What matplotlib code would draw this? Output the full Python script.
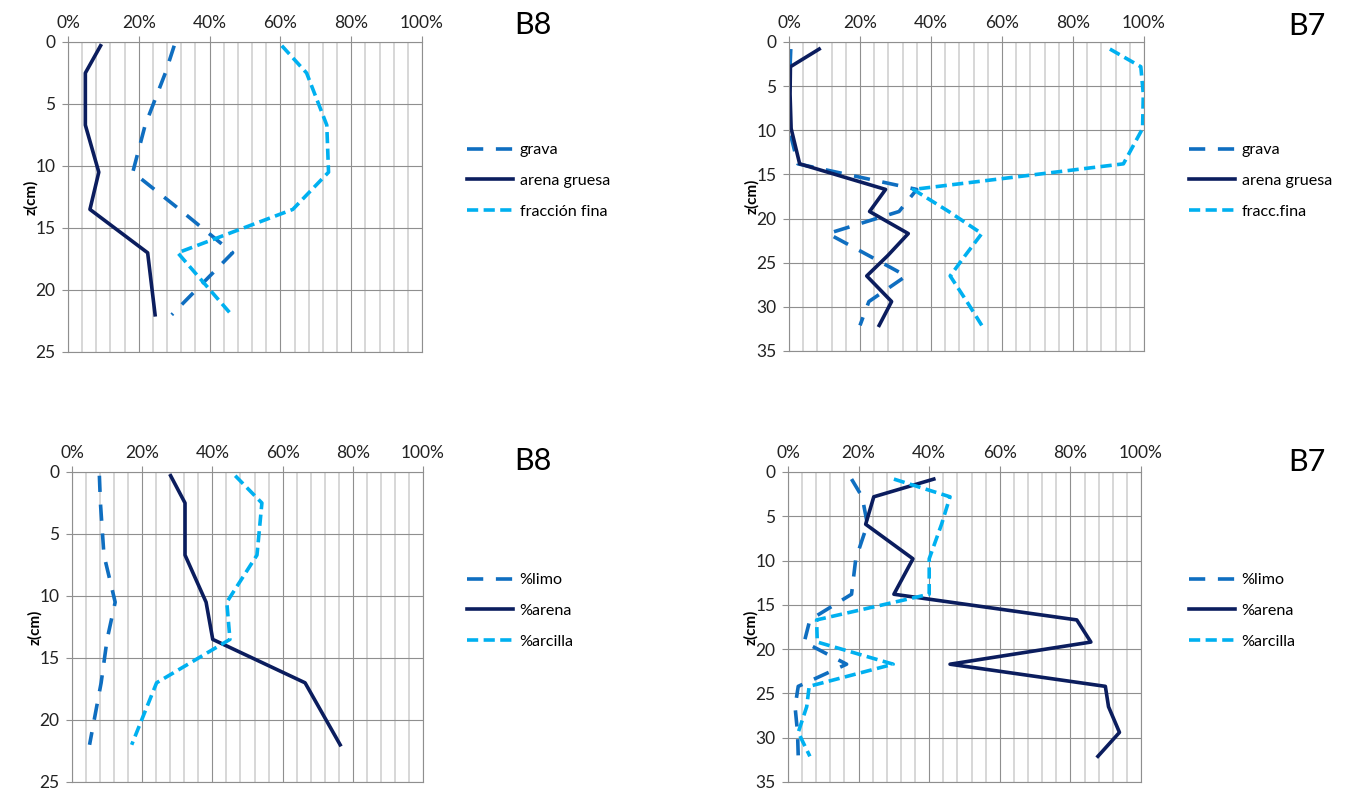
import matplotlib.pyplot as plt
from matplotlib.ticker import MultipleLocator, PercentFormatter

plt.rcParams['font.family'] = ['Lato', 'DejaVu Sans']

# --- B8: gravel / coarse sand / fine fraction (%) vs depth (cm)
z_b8 = [0.3, 2.5, 6.7, 10.5, 13.5, 17, 22]
grava_b8 = [30, 27.5, 21.8, 18.3, 31.5, 46.5, 29.3]
arena_gruesa_b8 = [9.2, 4.9, 4.9, 8.7, 6.2, 22.5, 24.6]
fina_b8 = [60.4, 67.4, 73.1, 73.6, 63.5, 31, 46.2]

# --- B7: gravel / coarse sand / fine fraction
z_b7 = [0.8, 2.8, 5.9, 9.8, 13.8, 16.7, 19.2, 21.7, 24.2, 26.5, 29.4, 32.1]
grava_b7 = [0.5, 0.3, 0, 0, 2.5, 36, 31, 11, 22.5, 33, 22.5, 20]
arena_gruesa_b7 = [8.5, 0.4, 0.3, 0.6, 3.0, 27.2, 22.7, 33.6, 27.8, 21.9, 28.9, 25.4]
fina_b7 = [90.4, 99.1, 99.8, 99.6, 94.2, 35, 45, 54.3, 49.6, 45.4, 50.1, 54.3]

# --- B8: silt / sand / clay in the fine fraction
limo_b8 = [7.8, 8.1, 9.1, 12.3, 10.0, 8.3, 5.0]
arena_b8 = [28.1, 32.2, 32.2, 38.2, 40.1, 66.4, 76.4]
arcilla_b8 = [46.5, 54.1, 52.7, 44.1, 45.0, 24.1, 17.0]

# --- B7: silt / sand / clay
limo_b7 = [18, 21, 22.5, 19.2, 18, 6.2, 4.6, 16.6, 2.9, 2.0, 2.7, 2.9]
arena_b7 = [41.3, 24.3, 22, 35.4, 30, 81.8, 85.8, 45.9, 89.9, 90.8, 93.9, 87.8]
arcilla_b7 = [30, 45.9, 43.5, 40, 40, 8.1, 8.3, 29.8, 6.0, 5.3, 2.9, 6.2]

C_GRAVA = '#0F6EC0'
C_ARENA = '#0B1D5E'
C_FINA = '#00B0F0'
LONG_DASH = (0, (4.5, 3.5))
SHORT_DASH = (0, (3.1, 1.5))
LW = 2.6

W, H = 1351, 789
fig = plt.figure(figsize=(W / 100, H / 100), dpi=100)


def px_axes(x0, y0, x1, y1):
    return fig.add_axes([x0 / W, 1 - y1 / H, (x1 - x0) / W, (y1 - y0) / H])


def style(ax, zmax):
    ax.set_xlim(0, 100)
    ax.set_ylim(zmax, 0)
    ax.xaxis.set_major_locator(MultipleLocator(20))
    ax.xaxis.set_minor_locator(MultipleLocator(4))
    ax.yaxis.set_major_locator(MultipleLocator(5))
    ax.xaxis.set_major_formatter(PercentFormatter(decimals=0))
    ax.xaxis.tick_top()
    ax.tick_params(axis='x', which='major', length=4, width=0.8, color='#8f8f8f',
                   labelsize=12.5, pad=4, labelcolor='#222222')
    ax.tick_params(axis='x', which='minor', length=0)
    ax.tick_params(axis='y', length=4, width=0.8, color='#8f8f8f',
                   labelsize=12.5, pad=5, labelcolor='#222222')
    ax.grid(which='minor', axis='x', color='#d4d4d4', lw=1.3)
    ax.grid(which='major', axis='both', color='#8f8f8f', lw=0.8)
    ax.set_axisbelow(True)
    for s in ax.spines.values():
        s.set_color('#8f8f8f')
        s.set_linewidth(0.8)
    ax.set_ylabel('z(cm)', fontweight='bold', fontsize=11)
    ax.yaxis.set_label_coords(-0.085, 0.5)


def draw(ax, z, a, b, c, labels, legend_xy):
    l1, = ax.plot(a, z, color=C_GRAVA, lw=LW, linestyle=LONG_DASH, label=labels[0])
    l2, = ax.plot(b, z, color=C_ARENA, lw=LW, label=labels[1])
    l3, = ax.plot(c, z, color=C_FINA, lw=LW, linestyle=SHORT_DASH, label=labels[2])
    fig.legend(handles=[l1, l2, l3], loc='upper left',
               bbox_to_anchor=(legend_xy[0] / W, 1 - legend_xy[1] / H),
               frameon=False, fontsize=11.6, handlelength=2.85, handletextpad=0.42,
               labelspacing=1.02, borderpad=0, borderaxespad=0)


ax1 = px_axes(68, 42, 422, 352)
style(ax1, 25)
draw(ax1, z_b8, grava_b8, arena_gruesa_b8, fina_b8,
     ['grava', 'arena gruesa', 'fracción fina'], (467, 143))

ax2 = px_axes(789, 42, 1144, 351)
style(ax2, 35)
draw(ax2, z_b7, grava_b7, arena_gruesa_b7, fina_b7,
     ['grava', 'arena gruesa', 'fracc.fina'], (1189, 143))

ax3 = px_axes(72, 472, 423, 782)
style(ax3, 25)
draw(ax3, z_b8, limo_b8, arena_b8, arcilla_b8,
     ['%limo', '%arena', '%arcilla'], (467, 573))

ax4 = px_axes(788, 472, 1141, 782)
style(ax4, 35)
draw(ax4, z_b7, limo_b7, arena_b7, arcilla_b7,
     ['%limo', '%arena', '%arcilla'], (1189, 573))

# sample names
for x, y, name in [(533, 25, 'B8'), (1307, 26, 'B7'), (533, 461, 'B8'), (1307, 462, 'B7')]:
    fig.text(x / W, 1 - y / H, name, fontsize=22, ha='center', va='center')

fig.savefig('out.png', dpi=100)
